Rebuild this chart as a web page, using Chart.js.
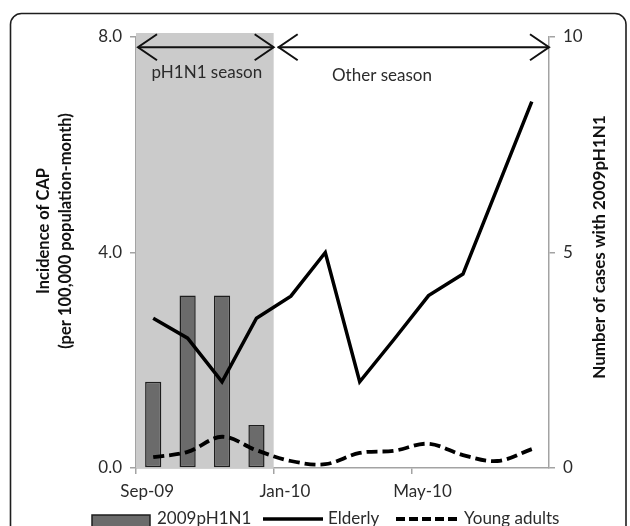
<!DOCTYPE html>
<html>
<head>
<meta charset="utf-8">
<script src="https://cdn.jsdelivr.net/npm/chart.js@4.4.0/dist/chart.umd.min.js"></script>
<style>
  html, body { margin: 0; padding: 0; background: #fff; }
  #wrap { width: 630px; height: 526px; position: relative; }
</style>
</head>
<body>
<div id="wrap"><canvas id="c" width="630" height="526"></canvas></div>
<script>
// ---- data ----
const months = ['Sep-09','Oct-09','Nov-09','Dec-09','Jan-10','Feb-10','Mar-10','Apr-10','May-10','Jun-10','Jul-10','Aug-10'];
const cases2009pH1N1 = [2, 4, 4, 1, 0, 0, 0, 0, 0, 0, 0, 0];
const elderly = [2.78, 2.41, 1.60, 2.78, 3.19, 4.00, 1.60, 2.39, 3.20, 3.60, 5.20, 6.80];
const youngAdults = [0.20, 0.30, 0.58, 0.33, 0.13, 0.07, 0.28, 0.32, 0.45, 0.24, 0.13, 0.35];
const leftTicks = [0, 4, 8];
const rightTicks = [0, 5, 10];
const seasonLabels = ['pH1N1 season', 'Other season'];
const pH1N1SeasonMonths = 4; // Sep-09 .. Dec-09
const leftTitle = ['Incidence of CAP', '(per 100,000 population-month)'];
const rightTitle = 'Number of cases with 2009pH1N1';

const FONT = 'Lato, Carlito, Calibri, "Open Sans", sans-serif';
const AXIS_GREY = '#a3a3a3';
const TEXT = '#2b2b2b';

function arrowHead(ctx, x, y, dir) {
  ctx.beginPath();
  ctx.moveTo(x + dir * 19, y - 13);
  ctx.lineTo(x, y);
  ctx.lineTo(x + dir * 19, y + 13);
  ctx.stroke();
}

const decor = {
  id: 'decor',
  beforeDatasetsDraw(chart) {
    const { ctx, chartArea, scales } = chart;
    const xs = scales.x, y = scales.y;
    const half = (xs.getPixelForValue(1) - xs.getPixelForValue(0)) / 2;
    const bound = xs.getPixelForValue(pH1N1SeasonMonths - 1) + half;
    ctx.save();
    ctx.fillStyle = '#cbcbcb';
    const top = y.getPixelForValue(8) - 4;
    ctx.fillRect(chartArea.left, top, bound - chartArea.left, chartArea.bottom - top);
    ctx.restore();
  },
  afterDraw(chart) {
    const { ctx, chartArea, scales } = chart;
    const xs = scales.x, y = scales.y;
    const half = (xs.getPixelForValue(1) - xs.getPixelForValue(0)) / 2;
    const bound = xs.getPixelForValue(pH1N1SeasonMonths - 1) + half;
    ctx.save();
    // arrows
    const ay = y.getPixelForValue(7.81);
    ctx.strokeStyle = '#111';
    ctx.lineWidth = 2;
    ctx.lineCap = 'butt';
    ctx.beginPath();
    ctx.moveTo(chartArea.left + 2, ay); ctx.lineTo(bound, ay);
    ctx.moveTo(bound + 4, ay); ctx.lineTo(chartArea.right, ay);
    ctx.stroke();
    arrowHead(ctx, chartArea.left + 2, ay, 1);
    arrowHead(ctx, bound, ay, -1);
    arrowHead(ctx, bound + 5, ay, 1);
    arrowHead(ctx, chartArea.right, ay, -1);

    // season labels
    ctx.fillStyle = TEXT;
    ctx.font = '17px ' + FONT;
    ctx.textAlign = 'center';
    ctx.textBaseline = 'alphabetic';
    ctx.fillText(seasonLabels[0], (chartArea.left + bound) / 2 + 2, 78);
    ctx.fillText(seasonLabels[1], 382, 81);

    // axis titles
    ctx.fillStyle = '#111';
    ctx.font = 'bold 16.5px ' + FONT;
    ctx.textBaseline = 'middle';
    ctx.save();
    ctx.translate(44, 231); ctx.rotate(-Math.PI / 2);
    ctx.fillText(leftTitle[0], 0, 0);
    ctx.restore();
    ctx.save();
    ctx.translate(66, 231); ctx.rotate(-Math.PI / 2);
    ctx.fillText(leftTitle[1], 0, 0);
    ctx.restore();
    ctx.font = 'bold 17px ' + FONT;
    ctx.save();
    ctx.translate(600, 247); ctx.rotate(-Math.PI / 2);
    ctx.fillText(rightTitle, 0, 0);
    ctx.restore();

    // legend
    const ds = chart.data.datasets;
    const bar = ds.find(d => d.type === 'bar');
    const eld = ds.find(d => d.label === 'Elderly');
    const yng = ds.find(d => d.label === 'Young adults');
    ctx.font = '17px ' + FONT;
    ctx.textAlign = 'left';
    ctx.textBaseline = 'alphabetic';
    ctx.fillStyle = bar.backgroundColor;
    ctx.fillRect(92, 515, 58, 14);
    ctx.strokeStyle = bar.borderColor; ctx.lineWidth = 1.5;
    ctx.strokeRect(92, 515, 58, 14);
    ctx.fillStyle = TEXT;
    ctx.fillText(bar.label, 157, 524);
    ctx.strokeStyle = eld.borderColor; ctx.lineWidth = eld.borderWidth;
    ctx.beginPath(); ctx.moveTo(263, 519); ctx.lineTo(323, 519); ctx.stroke();
    ctx.fillText(eld.label, 328, 524);
    ctx.strokeStyle = yng.borderColor; ctx.lineWidth = yng.borderWidth;
    ctx.setLineDash([9, 4]);
    ctx.beginPath(); ctx.moveTo(396, 519); ctx.lineTo(461, 519); ctx.stroke();
    ctx.setLineDash([]);
    ctx.fillText(yng.label, 464, 524);

    // frame
    ctx.strokeStyle = '#1e1e1e';
    ctx.lineWidth = 1.6;
    ctx.beginPath();
    ctx.moveTo(10.5, 560);
    ctx.lineTo(10.5, 24);
    ctx.arcTo(10.5, 13.5, 21.5, 13.5, 11);
    ctx.lineTo(615, 13.5);
    ctx.arcTo(626, 13.5, 626, 24.5, 11);
    ctx.lineTo(626, 560);
    ctx.stroke();
    ctx.restore();
  }
};

const tickFont = { family: FONT, size: 17 };

new Chart(document.getElementById('c'), {
  data: {
    labels: months,
    datasets: [
      { type: 'line', label: 'Elderly', data: elderly, yAxisID: 'y',
        borderColor: '#000', borderWidth: 3.5, pointRadius: 0, tension: 0, order: 1 },
      { type: 'line', label: 'Young adults', data: youngAdults, yAxisID: 'y',
        borderColor: '#000', borderWidth: 3.8, borderDash: [11, 5], pointRadius: 0,
        tension: 0.35, order: 1 },
      { type: 'bar', label: '2009pH1N1', data: cases2009pH1N1, yAxisID: 'y1',
        backgroundColor: '#6b6b6b', borderColor: '#1e1e1e',
        borderWidth: c => (c.raw > 0 ? 1.5 : 0), borderSkipped: false,
        barPercentage: 0.47, categoryPercentage: 1, order: 2 }
    ]
  },
  options: {
    responsive: false,
    animation: false,
    devicePixelRatio: 1,
    layout: { padding: { top: 37, left: 0, right: 0, bottom: 0 } },
    plugins: { legend: { display: false }, tooltip: { enabled: false }, title: { display: false } },
    scales: {
      x: {
        type: 'category',
        offset: true,
        grid: {
          offset: true, drawOnChartArea: false, drawTicks: true, tickLength: 6,
          lineWidth: 1.5,
          color: c => (c.index % 4 === 0 ? AXIS_GREY : 'rgba(0,0,0,0)')
        },
        border: { display: true, color: AXIS_GREY, width: 1.5 },
        ticks: {
          autoSkip: false, maxRotation: 0, minRotation: 0,
          callback: (v, i) => (i % 4 === 0 ? months[i] : ''),
          color: TEXT, font: tickFont, padding: 7, labelOffset: -6
        },
        afterFit: s => { s.height = 58; }
      },
      y: {
        position: 'left', min: 0, max: 8,
        afterBuildTicks: s => { s.ticks = leftTicks.map(v => ({ value: v })); },
        grid: { drawOnChartArea: false, drawTicks: true, tickLength: 6, color: AXIS_GREY, lineWidth: 1.5 },
        border: { display: true, color: AXIS_GREY, width: 1.5 },
        ticks: { callback: v => Number(v).toFixed(1), color: TEXT, font: tickFont, padding: 8 },
        afterFit: s => { s.width = 136; }
      },
      y1: {
        position: 'right', min: 0, max: 10,
        afterBuildTicks: s => { s.ticks = rightTicks.map(v => ({ value: v })); },
        grid: { drawOnChartArea: false, drawTicks: true, tickLength: 6, color: AXIS_GREY, lineWidth: 1.5 },
        border: { display: true, color: AXIS_GREY, width: 1.5 },
        ticks: { callback: v => String(v), color: TEXT, font: tickFont, padding: 8 },
        afterFit: s => { s.width = 81; }
      }
    }
  },
  plugins: [decor]
});
</script>
</body>
</html>
